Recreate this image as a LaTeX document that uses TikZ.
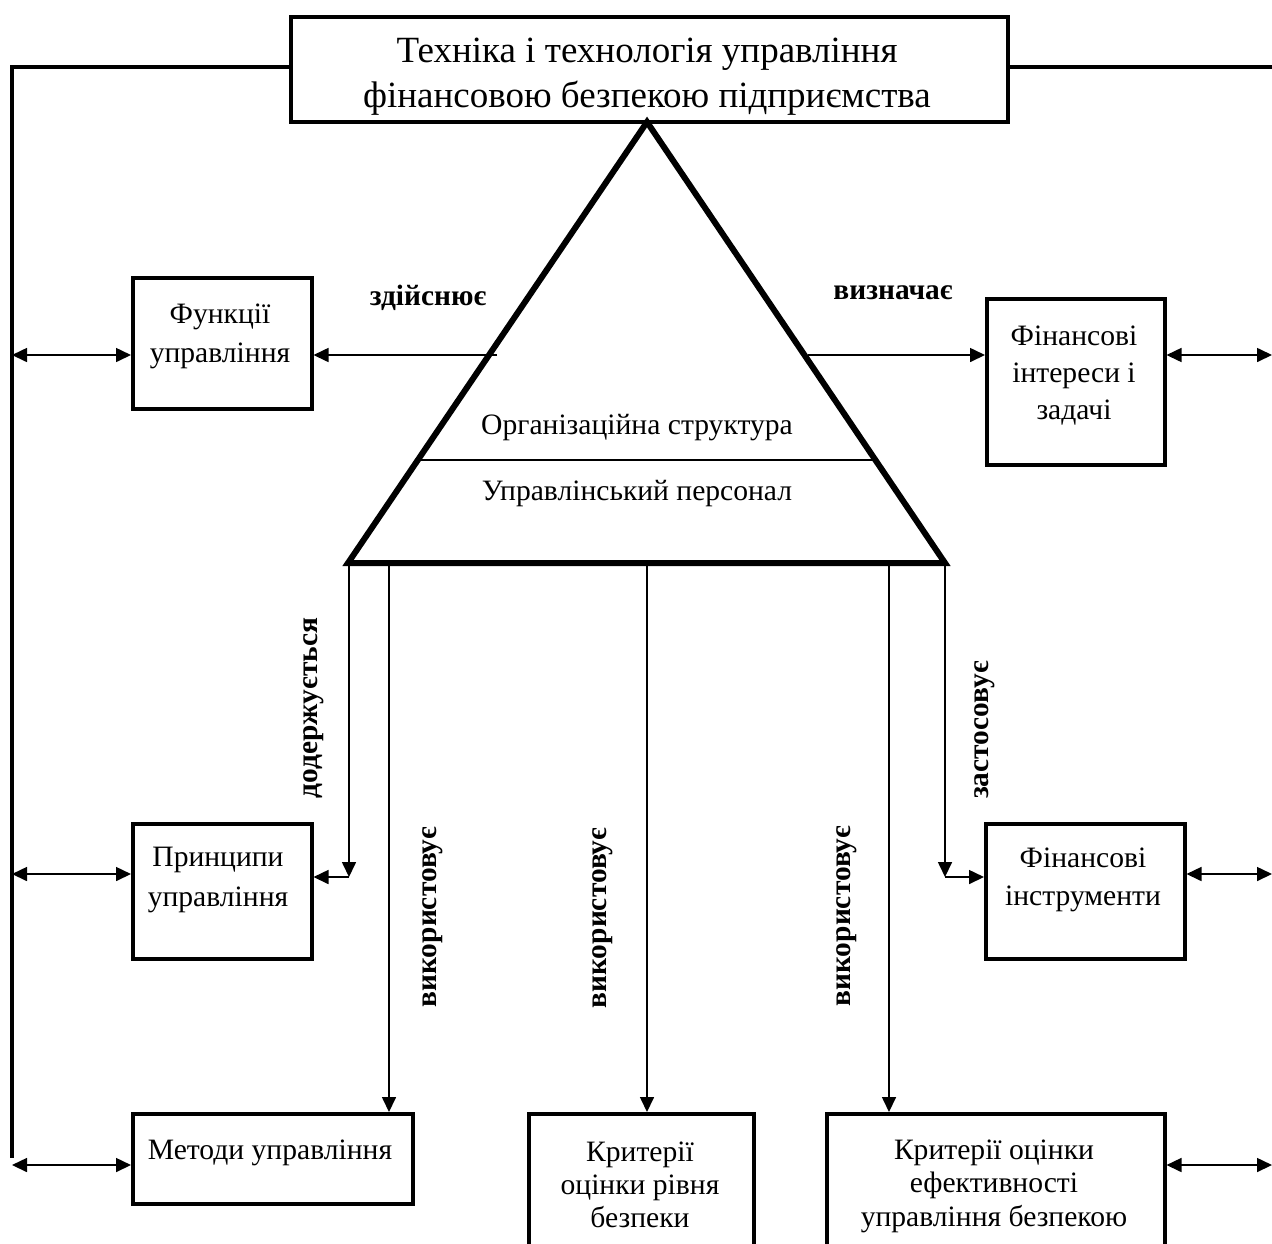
\documentclass[tikz,border=0pt]{standalone}
\usepackage{fontspec}
\setmainfont{Liberation Serif}
\usetikzlibrary{arrows.meta}
\begin{document}
\begin{tikzpicture}[x=0.5pt,y=-0.5pt,
  box/.style={draw, line width=1.75pt, anchor=north west, inner sep=0pt},
  txt/.style={align=center, inner sep=0pt, font=\fontsize{14.8}{19.5}\selectfont},
  lbl/.style={font=\bfseries\fontsize{14.7}{16}\selectfont, inner sep=0pt},
  conn/.style={line width=0.8pt, -{Triangle[length=7.5pt,width=7pt]}},
  dconn/.style={line width=0.8pt, {Triangle[length=7.5pt,width=7pt]}-{Triangle[length=7.5pt,width=7pt]}},
  bus/.style={line width=2pt}
]
\useasboundingbox (0,0) rectangle (1272,1243);
\fill[white] (0,0) rectangle (1272,1243);

% boxes
\node[box, minimum width=358.5pt, minimum height=52.5pt] (top) at (289,15) {};
\node[box, minimum width=89.5pt, minimum height=65.5pt] (func) at (131,276) {};
\node[box, minimum width=89pt, minimum height=83pt] (fint) at (985,297) {};
\node[box, minimum width=89.5pt, minimum height=67.5pt] (princ) at (131,822) {};
\node[box, minimum width=99.5pt, minimum height=67.5pt] (finstr) at (984,822) {};
\node[box, minimum width=140pt, minimum height=45pt] (meth) at (131,1112) {};
\node[box, minimum width=112.5pt, minimum height=80pt] (critl) at (527,1112) {};
\node[box, minimum width=169pt, minimum height=80pt] (crite) at (825,1112) {};

% texts
\node[txt, font=\fontsize{18.5}{22.5}\selectfont] (topt) at (647,77) {Техніка і технологія управління\\фінансовою безпекою підприємства};
\node[txt] (funct) at (220,336) {Функції\\управління};
\node[txt, font=\fontsize{14.8}{18.5}\selectfont] (fintt) at (1074,376) {Фінансові\\інтереси і\\задачі};
\node[txt, font=\fontsize{14.8}{20}\selectfont] (princt) at (218,880) {Принципи\\управління};
\node[txt, font=\fontsize{14.8}{19}\selectfont] (finstrt) at (1083,880) {Фінансові\\інструменти};
\node[txt] (metht) at (270,1153) {Методи управління};
\node[txt, font=\fontsize{14.8}{16.5}\selectfont] (critlt) at (640,1185) {Критерії\\оцінки рівня\\безпеки};
\node[txt, font=\fontsize{14.8}{16.8}\selectfont] (critet) at (994,1186) {Критерії оцінки\\ефективності\\управління безпекою};

% triangle
\coordinate (A) at (647,122);
\coordinate (B) at (348,563);
\coordinate (C) at (945,563);
\draw[line width=3pt, line join=miter] (A) -- (B) -- (C) -- cycle;
\coordinate (mL) at (421,460);
\coordinate (mR) at (873,460);
\draw[line width=1pt] (mL) -- (mR);
\node[txt] (org) at (637,428) {Організаційна структура};
\node[txt] (pers) at (637,494) {Управлінський персонал};

% bus lines
\coordinate (busTop) at (12,67);
\coordinate (busBot) at (12,1158);
\coordinate (rEdge) at (1272,67);
\draw[bus] (top.west |- busTop) -- (busTop) -- (busBot);
\draw[bus] (top.east |- rEdge) -- (rEdge);

% rows
\coordinate (r1) at (0,355);
\coordinate (r2) at (0,874);
\coordinate (r3) at (0,1165);
\draw[dconn] (busTop |- r1) -- (func.west |- r1);
\draw[dconn] (busTop |- r2) -- (princ.west |- r2);
\draw[dconn] (busTop |- r3) -- (meth.west |- r3);
\draw[dconn] (fint.east |- r1) -- (rEdge |- r1);
\draw[dconn] (finstr.east |- r2) -- (rEdge |- r2);
\draw[dconn] (crite.east |- r3) -- (rEdge |- r3);

% triangle side arrows
\coordinate (tL) at (497,355);
\coordinate (tR) at (808,355);
\draw[conn] (tL) -- (func.east |- tL);
\draw[conn] (tR) -- (fint.west |- tR);
\node[lbl] (l1) at (428,298) {здійснює};
\node[lbl] (l2) at (893,293) {визначає};

% base arrows
\coordinate (b1) at (349,563);
\coordinate (c1) at (349,877);
\coordinate (b2) at (389,563);
\coordinate (b3) at (647,563);
\coordinate (b4) at (889,563);
\coordinate (b5) at (945,563);
\coordinate (c5) at (945,877);
\draw[conn] (b1) -- (c1);
\draw[conn] (c1) -- (princ.east |- c1);
\draw[conn] (b2) -- (b2 |- meth.north);
\draw[conn] (b3) -- (b3 |- critl.north);
\draw[conn] (b4) -- (b4 |- crite.north);
\draw[conn] (b5) -- (c5);
\draw[conn] (c5) -- (finstr.west |- c5);

\node[lbl, rotate=90] (l3) at (314,708) {додержується};
\node[lbl, rotate=90] (l4) at (433,917) {використовує};
\node[lbl, rotate=90] (l5) at (603,918) {використовує};
\node[lbl, rotate=90] (l6) at (847,916) {використовує};
\node[lbl, rotate=90] (l7) at (985,730) {застосовує};
\end{tikzpicture}
\end{document}
